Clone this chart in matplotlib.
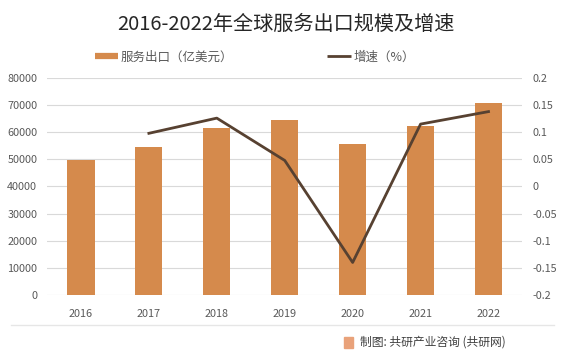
import matplotlib
matplotlib.use("Agg")
import matplotlib.pyplot as plt
from matplotlib.lines import Line2D
from matplotlib.patches import Rectangle
import numpy as np

plt.rcParams['font.family'] = ['Noto Sans CJK SC', 'DejaVu Sans']

years = ['2016', '2017', '2018', '2019', '2020', '2021', '2022']
exports = [49800, 54600, 61500, 64500, 55600, 62300, 70900]
growth_years = ['2017', '2018', '2019', '2020', '2021', '2022']
growth = [0.098, 0.126, 0.048, -0.140, 0.115, 0.138]
left_ticks = [0, 10000, 20000, 30000, 40000, 50000, 60000, 70000, 80000]
right_ticks = [-0.2, -0.15, -0.1, -0.05, 0, 0.05, 0.1, 0.15, 0.2]
right_labels = ['-0.2', '-0.15', '-0.1', '-0.05', '0', '0.05', '0.1', '0.15', '0.2']

bar_color = '#D58A4C'
line_color = '#574131'
text_color = '#595959'

fig = plt.figure(figsize=(5.71, 3.56), dpi=100)
ax = fig.add_axes([0.0823, 0.1713, 0.8327, 0.6097])
x = np.arange(len(years))
ax.bar(x, exports, width=0.4, color=bar_color, zorder=3)
ax.set_ylim(0, 80000)
ax.set_xlim(-0.5, len(years) - 0.5)
ax.set_yticks(left_ticks)
ax.set_yticklabels([str(v) for v in left_ticks])
ax.set_xticks(x)
ax.set_xticklabels(years)
ax.grid(axis='y', color='#D9D9D9', linewidth=0.8, zorder=0)
for s in ax.spines.values():
    s.set_visible(False)
ax.tick_params(axis='both', length=0, colors=text_color, labelsize=7.8)
ax.tick_params(axis='y', pad=7)
ax.tick_params(axis='x', pad=10)

ax2 = ax.twinx()
gx = [years.index(y) for y in growth_years]
ax2.plot(gx, growth, color=line_color, linewidth=2.0, zorder=4)
ax2.set_ylim(-0.2, 0.2)
ax2.set_yticks(right_ticks)
ax2.set_yticklabels(right_labels)
for s in ax2.spines.values():
    s.set_visible(False)
ax2.tick_params(axis='y', length=0, colors=text_color, labelsize=7.8, pad=7)

fig.text(0.5, 0.93, '2016-2022年全球服务出口规模及增速', ha='center', va='center',
         fontsize=14.5, color='#262626')

handles = [Line2D([0], [0], color=bar_color, linewidth=4.5, solid_capstyle='butt'),
           Line2D([0], [0], color=line_color, linewidth=2.0, solid_capstyle='butt')]
fig.legend(handles, ['服务出口（亿美元）', '增速（%）'], loc='center',
           bbox_to_anchor=(0.446, 0.84), ncol=2, frameon=False, fontsize=9,
           columnspacing=7.5, handlelength=1.9, handletextpad=0.2, labelcolor=text_color)

fig.add_artist(Line2D([0.02, 0.97], [0.087, 0.087], color='#E6E6E6', linewidth=1.0,
                      transform=fig.transFigure))
fig.add_artist(Rectangle((0.603, 0.023), 0.015, 0.03, color='#E9A27A',
                         transform=fig.transFigure))
fig.text(0.63, 0.038, '制图: 共研产业咨询 (共研网)', ha='left', va='center',
         fontsize=8.5, color='#404040')

fig.savefig('out.png', dpi=100)
